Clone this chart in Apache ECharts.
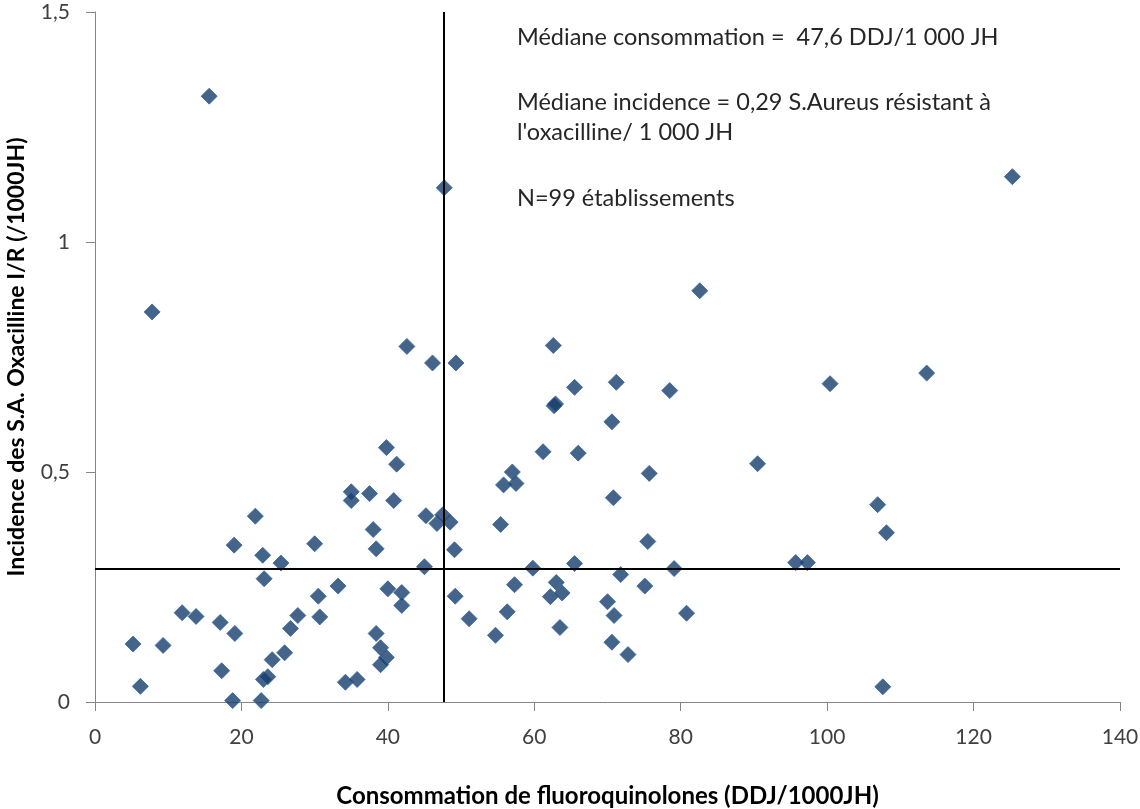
<!DOCTYPE html>
<html>
<head>
<meta charset="utf-8">
<script src="https://cdn.jsdelivr.net/npm/echarts@6/dist/echarts.min.js"></script>
<style>
  html, body { margin: 0; padding: 0; background: #ffffff; }
  #chart { width: 1140px; height: 809px; }
</style>
</head>
<body>
<div id="chart"></div>
<script>
// Consommation de fluoroquinolones (DDJ/1000JH) par établissement
const consommation = [
  15.6, 7.8, 21.9, 19.0, 22.9, 25.4, 23.1, 5.2, 6.2, 9.3,
  11.9, 13.8, 17.1, 19.1, 17.3, 18.8, 22.7, 23.0, 23.6, 24.2,
  25.9, 26.7, 27.7, 30.0, 30.5, 30.7, 33.2, 34.2, 35.0, 35.0,
  35.8, 37.5, 38.0, 38.4, 38.4, 39.0, 39.8, 39.0, 39.8, 40.0,
  40.8, 41.2, 41.9, 41.9, 42.6, 45.0, 45.2, 46.1, 46.7, 47.5,
  47.7, 48.5, 49.1, 49.2, 49.3, 51.1, 54.7, 55.4, 55.8, 56.3,
  57.0, 57.3, 57.5, 59.8, 61.2, 62.2, 62.6, 62.7, 62.9, 63.0,
  63.5, 63.8, 65.5, 65.5, 66.0, 70.0, 70.6, 70.6, 70.8, 70.9,
  71.2, 71.8, 72.8, 75.1, 75.5, 75.7, 78.5, 79.1, 80.8, 82.6,
  90.5, 95.7, 97.3, 100.4, 106.9, 107.6, 108.1, 113.6, 125.3
];

// Incidence des S.A. résistants à l'oxacilline (/1000JH), même ordre
const incidence = [
  1.317, 0.848, 0.404, 0.341, 0.319, 0.302, 0.268, 0.126, 0.034, 0.123,
  0.194, 0.186, 0.173, 0.149, 0.068, 0.003, 0.003, 0.049, 0.055, 0.092,
  0.107, 0.160, 0.188, 0.344, 0.230, 0.185, 0.252, 0.043, 0.457, 0.438,
  0.049, 0.453, 0.375, 0.333, 0.149, 0.118, 0.097, 0.081, 0.553, 0.246,
  0.438, 0.517, 0.238, 0.210, 0.773, 0.294, 0.405, 0.737, 0.388, 0.407,
  1.118, 0.391, 0.331, 0.230, 0.737, 0.181, 0.145, 0.386, 0.472, 0.196,
  0.500, 0.255, 0.475, 0.291, 0.544, 0.229, 0.775, 0.644, 0.648, 0.260,
  0.162, 0.237, 0.301, 0.684, 0.541, 0.218, 0.609, 0.130, 0.444, 0.188,
  0.695, 0.277, 0.103, 0.252, 0.349, 0.497, 0.677, 0.290, 0.193, 0.894,
  0.518, 0.303, 0.303, 0.692, 0.429, 0.033, 0.368, 0.715, 1.142
];

// Médianes
const medianeConsommation = 47.6;
const medianeIncidence = 0.29;

// Graduations
const xTicks = [0, 20, 40, 60, 80, 100, 120, 140];
const yTicks = [0, 0.5, 1, 1.5];

// Encadré de texte (une entrée par ligne)
const noteLines = [
  'Médiane consommation =  47,6 DDJ/1 000 JH',
  'Médiane incidence = 0,29 S.Aureus résistant à',
  "l'oxacilline/ 1 000 JH",
  'N=99 établissements'
];
const noteLineY = [37, 102, 132, 198];

const points = consommation.map((x, i) => [x, incidence[i]]);

const FONT = 'Lato, "Open Sans", sans-serif';
const axisGrey = '#868686';
const textGrey = '#404040';

const chart = echarts.init(document.getElementById('chart'), null, { renderer: 'canvas' });

chart.setOption({
  animation: false,
  backgroundColor: '#ffffff',
  grid: {
    left: 95, right: 20, top: 12, bottom: 107,
    containLabel: false,
    outerBoundsMode: 'none'
  },
  xAxis: {
    type: 'value',
    min: xTicks[0],
    max: xTicks[xTicks.length - 1],
    interval: 20,
    name: 'Consommation de fluoroquinolones (DDJ/1000JH)',
    nameLocation: 'middle',
    nameGap: 82,
    nameTextStyle: { fontFamily: FONT, fontWeight: 'bold', fontSize: 24, color: '#000000' },
    axisLine: { lineStyle: { color: axisGrey, width: 1 } },
    axisTick: { show: true, length: 9, lineStyle: { color: axisGrey } },
    axisLabel: { fontFamily: FONT, fontSize: 21, color: textGrey, margin: 25 },
    splitLine: { show: false }
  },
  yAxis: {
    type: 'value',
    min: yTicks[0],
    max: yTicks[yTicks.length - 1],
    interval: 0.5,
    name: 'Incidence des S.A. Oxacilline I/R (/1000JH)',
    nameLocation: 'middle',
    nameGap: 67,
    nameRotate: 90,
    nameTextStyle: { fontFamily: FONT, fontWeight: 'bold', fontSize: 23, color: '#000000' },
    axisLine: { show: true, lineStyle: { color: axisGrey, width: 1 } },
    axisTick: { show: true, length: 9, lineStyle: { color: axisGrey } },
    axisLabel: {
      fontFamily: FONT, fontSize: 21, color: textGrey, margin: 25,
      formatter: v => String(v).replace('.', ',')
    },
    splitLine: { show: false }
  },
  graphic: noteLines.map((line, i) => ({
    type: 'text',
    x: 517,
    y: noteLineY[i],
    style: {
      text: line,
      fontFamily: FONT,
      fontSize: 23.5,
      fill: '#262626',
      textVerticalAlign: 'middle'
    }
  })),
  series: [{
    type: 'scatter',
    data: points,
    symbol: 'diamond',
    symbolSize: 16,
    itemStyle: { color: '#173d6b', borderColor: '#3564a0', borderWidth: 1 },
    markLine: {
      silent: true,
      symbol: 'none',
      label: { show: false },
      lineStyle: { color: '#000000', width: 2, type: 'solid' },
      data: [
        { xAxis: medianeConsommation },
        { yAxis: medianeIncidence }
      ]
    },
    z: 3
  }]
});
</script>
</body>
</html>
